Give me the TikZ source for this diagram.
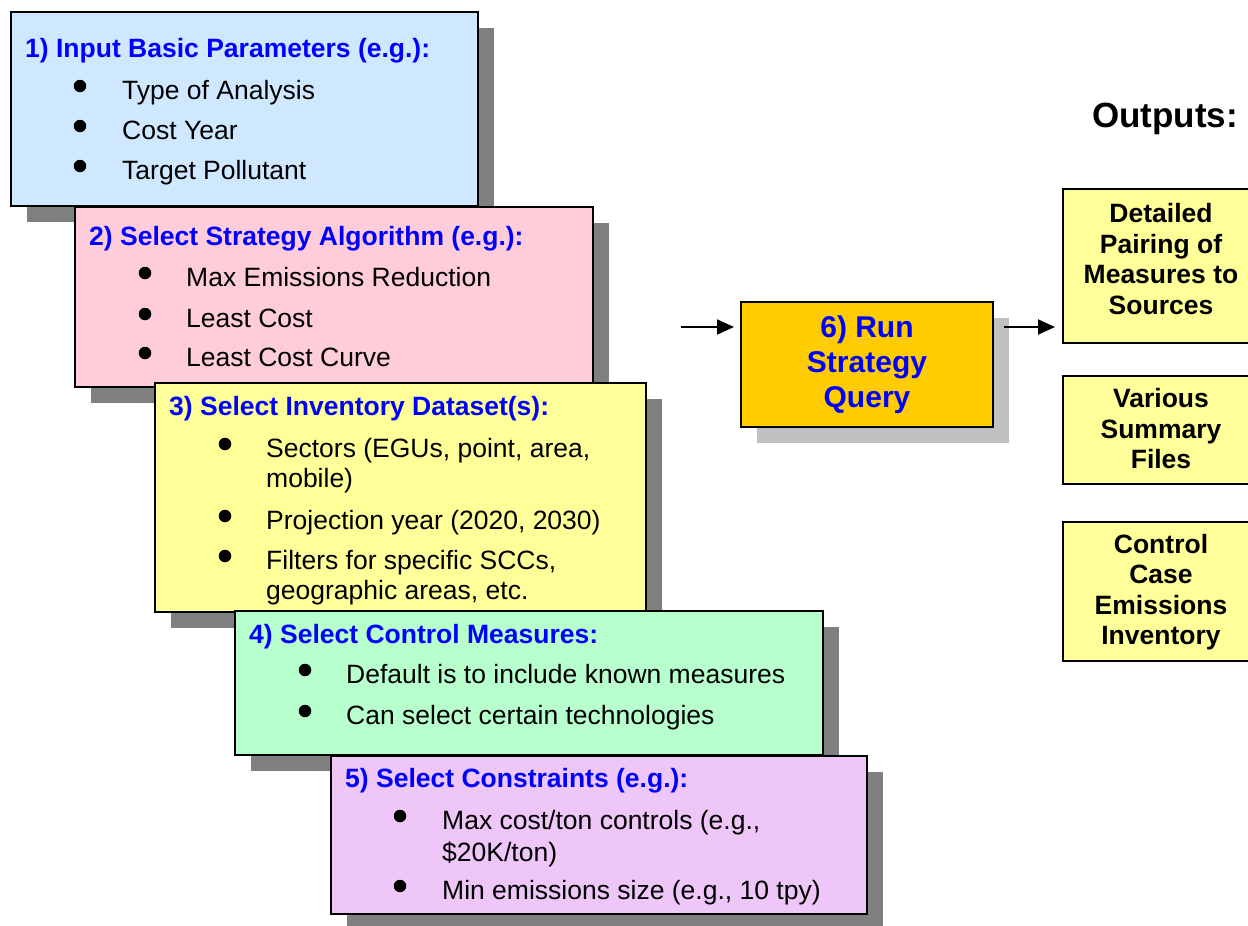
\documentclass[tikz,border=0pt]{standalone}
\usepackage{fontspec}
\setmainfont{Liberation Sans}
\usetikzlibrary{arrows.meta,shadows}
\definecolor{bA}{RGB}{208,232,255}
\definecolor{bB}{RGB}{255,204,218}
\definecolor{bC}{RGB}{255,255,153}
\definecolor{bD}{RGB}{183,255,204}
\definecolor{bE}{RGB}{238,198,248}
\definecolor{bF}{RGB}{255,204,0}
\definecolor{shdark}{RGB}{128,128,128}
\definecolor{shlight}{RGB}{192,192,192}
\definecolor{tblue}{RGB}{0,0,255}
\tikzset{
  stepbox/.style={draw=black, line width=2pt, inner sep=0pt, rectangle,
    drop shadow={shadow xshift=16pt, shadow yshift=-16pt, opacity=1, fill=shdark}},
  runbox/.style={draw=black, line width=2pt, inner sep=0pt, rectangle, fill=bF,
    align=center, text=tblue, font=\bfseries\fontsize{30}{35}\selectfont,
    drop shadow={shadow xshift=16pt, shadow yshift=-16pt, opacity=1, fill=shlight}},
  outbox/.style={draw=black, line width=2pt, inner sep=0pt, rectangle, fill=bC},
  outtxt/.style={inner sep=0pt, align=center, font=\bfseries\fontsize{26.5}{30.5}\selectfont},
  ttl/.style={anchor=base west, inner sep=0pt, text=tblue, font=\bfseries\fontsize{26.5}{31}\selectfont},
  itm/.style={anchor=base west, inner sep=0pt, font=\fontsize{26.5}{31}\selectfont},
  dot/.style={circle, fill=black, inner sep=0pt, minimum size=12.5pt},
  arr/.style={line width=2pt, -{Triangle[length=17pt,width=15pt]}}
}
\begin{document}
\begin{tikzpicture}[x=1pt,y=-1pt]
\clip (0,0) rectangle (1248,926);
\fill[white] (0,0) rectangle (1248,926);

% Box 1
\node[stepbox, fill=bA, minimum width=467pt, minimum height=194pt] (s1) at (244.5,109) {};
\node[ttl] (s1t) at (25,57) {1) Input Basic Parameters (e.g.):};
\node[dot] (d11) at (80,86) {};
\node[dot] (d12) at (80,126) {};
\node[dot] (d13) at (80,166) {};
\node[itm] (i11) at (122,99) {Type of Analysis};
\node[itm] (i12) at (122,139) {Cost Year};
\node[itm] (i13) at (122,179) {Target Pollutant};

% Box 2
\node[stepbox, fill=bB, minimum width=518pt, minimum height=180pt] (s2) at (334,297) {};
\node[ttl] (s2t) at (89,245) {2) Select Strategy Algorithm (e.g.):};
\node[dot] (d21) at (145,273) {};
\node[dot] (d22) at (145,314) {};
\node[dot] (d23) at (145,353) {};
\node[itm] (i21) at (186,286) {Max Emissions Reduction};
\node[itm] (i22) at (186,327) {Least Cost};
\node[itm] (i23) at (186,366) {Least Cost Curve};

% Box 3
\node[stepbox, fill=bC, minimum width=491pt, minimum height=229pt] (s3) at (400.5,497.5) {};
\node[ttl] (s3t) at (169,415) {3) Select Inventory Dataset(s):};
\node[dot] (d31) at (225,444) {};
\node[dot] (d32) at (225,516) {};
\node[dot] (d33) at (225,556) {};
\node[itm] (i31a) at (266,457) {Sectors (EGUs, point, area,};
\node[itm] (i31b) at (266,487) {mobile)};
\node[itm] (i32) at (266,529) {Projection year (2020, 2030)};
\node[itm] (i33a) at (266,569) {Filters for specific SCCs,};
\node[itm] (i33b) at (266,599) {geographic areas, etc.};

% Box 4
\node[stepbox, fill=bD, minimum width=588pt, minimum height=144pt] (s4) at (529,683) {};
\node[ttl] (s4t) at (249,643) {4) Select Control Measures:};
\node[dot] (d41) at (305,670) {};
\node[dot] (d42) at (305,711) {};
\node[itm] (i41) at (346,683) {Default is to include known measures};
\node[itm] (i42) at (346,724) {Can select certain technologies};

% Box 5
\node[stepbox, fill=bE, minimum width=536pt, minimum height=158pt] (s5) at (599,835) {};
\node[ttl] (s5t) at (345,787) {5) Select Constraints (e.g.):};
\node[dot] (d51) at (400,816) {};
\node[dot] (d52) at (400,886) {};
\node[itm] (i51a) at (442,829) {Max cost/ton controls (e.g.,};
\node[itm] (i51b) at (442,861) {\$20K/ton)};
\node[itm] (i52) at (442,899) {Min emissions size (e.g., 10 tpy)};

% Box 6
\node[runbox, minimum width=252pt, minimum height=125pt] (run) at (867,364.5) {6) Run\\Strategy\\Query};

% Outputs
\node[anchor=base west, inner sep=0pt, font=\bfseries\fontsize{35}{40}\selectfont] (outl) at (1092,127) {Outputs:};
\node[outbox, minimum width=196pt, minimum height=154pt] (oA) at (1161,266) {};
\node[outtxt] (oAt) at (1161,259) {Detailed\\Pairing of\\Measures to\\Sources};
\node[outbox, minimum width=196pt, minimum height=108pt] (oB) at (1161,430) {};
\node[outtxt] (oBt) at (1161,429) {Various\\Summary\\Files};
\node[outbox, minimum width=196pt, minimum height=139pt] (oC) at (1161,591.5) {};
\node[outtxt] (oCt) at (1161,592) {Control\\Case\\Emissions\\Inventory};

% Arrows
\coordinate (inS) at (681,327);
\draw[arr, shorten >=6pt] (inS) -- (run.west |- inS);
\draw[arr, shorten <=10pt, shorten >=7pt] (run.east |- inS) -- (oA.west |- inS);
\end{tikzpicture}
\end{document}
